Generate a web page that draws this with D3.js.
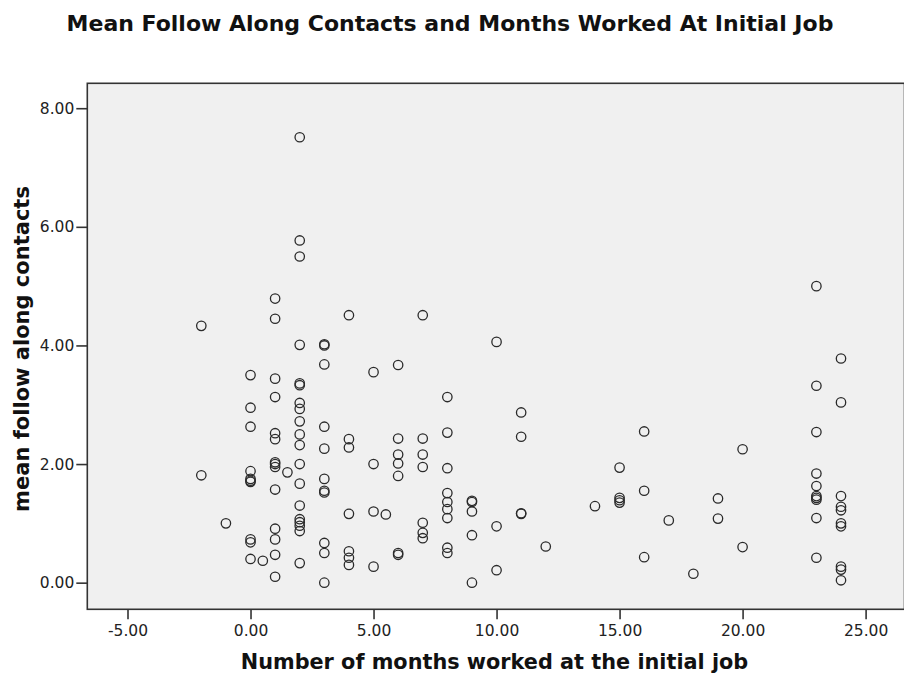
<!DOCTYPE html>
<html>
<head>
<meta charset="utf-8">
<script src="https://cdn.jsdelivr.net/npm/d3@7"></script>
<style>
  body { margin: 0; background: #ffffff; }
</style>
</head>
<body>
<script>
// months worked at initial job (x) and mean follow along contacts (y)
const months = [
  -2, -2,
  -1,
  0, 0, 0, 0, 0, 0, 0, 0, 0, 0,
  0.5,
  1, 1, 1, 1, 1, 1, 1, 1, 1, 1, 1, 1, 1, 1,
  1.5,
  2, 2, 2, 2, 2, 2, 2, 2, 2, 2, 2, 2, 2, 2, 2, 2, 2, 2, 2,
  3, 3, 3, 3, 3, 3, 3, 3, 3, 3, 3,
  4, 4, 4, 4, 4, 4, 4,
  5, 5, 5, 5,
  5.5,
  6, 6, 6, 6, 6, 6, 6,
  7, 7, 7, 7, 7, 7, 7,
  8, 8, 8, 8, 8, 8, 8, 8, 8,
  9, 9, 9, 9, 9,
  10, 10, 10,
  11, 11, 11, 11,
  12,
  14,
  15, 15, 15, 15,
  16, 16, 16,
  17,
  18,
  19, 19,
  20, 20,
  23, 23, 23, 23, 23, 23, 23, 23, 23, 23,
  24, 24, 24, 24, 24, 24, 24, 24, 24, 24
];
const contacts = [
  4.33, 1.81,
  1.00,
  3.50, 2.95, 2.63, 1.88, 1.75, 1.72, 1.70, 0.73, 0.68, 0.40,
  0.37,
  4.79, 4.45, 3.44, 3.13, 2.52, 2.42, 2.03, 2.00, 1.95, 1.57, 0.91, 0.73, 0.47, 0.10,
  1.86,
  7.51, 5.77, 5.50, 4.01, 3.36, 3.33, 3.03, 2.93, 2.72, 2.50, 2.32, 2.00, 1.67, 1.30, 1.07, 1.02, 0.96, 0.87, 0.33,
  4.02, 4.00, 3.68, 2.63, 2.26, 1.75, 1.55, 1.52, 0.67, 0.50, 0.00,
  4.51, 2.42, 2.28, 1.16, 0.53, 0.42, 0.30,
  3.55, 2.00, 1.20, 0.27,
  1.15,
  3.67, 2.43, 2.16, 2.01, 1.80, 0.50, 0.47,
  4.51, 2.43, 2.16, 1.95, 1.01, 0.84, 0.75,
  3.13, 2.53, 1.93, 1.51, 1.36, 1.24, 1.09, 0.59, 0.50,
  1.38, 1.36, 1.20, 0.80, 0.00,
  4.06, 0.95, 0.21,
  2.87, 2.46, 1.17, 1.16,
  0.61,
  1.29,
  1.94, 1.43, 1.39, 1.35,
  2.55, 1.55, 0.43,
  1.05,
  0.15,
  1.42, 1.08,
  2.25, 0.60,
  5.00, 3.32, 2.54, 1.84, 1.63, 1.46, 1.43, 1.40, 1.09, 0.42,
  3.78, 3.04, 1.46, 1.28, 1.22, 1.00, 0.95, 0.27, 0.22, 0.04
];
const xTicks = [-5, 0, 5, 10, 15, 20, 25];
const yTicks = [0, 2, 4, 6, 8];

const titleText = "Mean Follow Along Contacts and Months Worked At Initial Job";
const xLabel = "Number of months worked at the initial job";
const yLabel = "mean follow along contacts";

let canvasW = 904;
let canvasH = 679;

let plotL = 87.3, plotT = 83.3, plotR = 904.5, plotB = 609.3;

let svg = d3.select("body").append("svg")
  .attr("width", canvasW)
  .attr("height", canvasH)
  .style("font-family", "'DejaVu Sans', sans-serif");

let x = d3.scaleLinear().domain([-6.634, 26.52]).range([plotL, 903]);
let y = d3.scaleLinear().domain([-0.449, 8.42]).range([plotB, plotT]);

// plot background + frame
svg.append("rect")
  .attr("x", plotL)
  .attr("y", plotT)
  .attr("width", plotR - plotL)
  .attr("height", plotB - plotT)
  .attr("fill", "#f0f0f0")
  .attr("stroke", "#333")
  .attr("stroke-width", 1.6);

let fmt = d => d.toFixed(2);

// axes
let xAxis = svg.append("g")
  .attr("transform", `translate(0,${plotB})`)
  .call(d3.axisBottom(x).tickValues(xTicks).tickFormat(fmt).tickSize(10).tickSizeOuter(0).tickPadding(6));

let yAxis = svg.append("g")
  .attr("transform", `translate(${plotL},0)`)
  .call(d3.axisLeft(y).tickValues(yTicks).tickFormat(fmt).tickSize(11).tickSizeOuter(0).tickPadding(2));

[xAxis, yAxis].forEach(a => {
  a.select(".domain").remove();
  a.selectAll(".tick line").attr("stroke", "#333").attr("stroke-width", 1.6);
  a.selectAll(".tick text")
    .attr("fill", "#222")
    .style("font-family", "'DejaVu Sans', sans-serif")
    .style("font-size", "15.5px");
});

// points
svg.append("g")
  .selectAll("circle")
  .data(months.map((m, i) => [m, contacts[i]]))
  .enter().append("circle")
  .attr("cx", d => x(d[0]))
  .attr("cy", d => y(d[1]))
  .attr("r", 4.7)
  .attr("fill", "none")
  .attr("stroke", "#2a2a2a")
  .attr("stroke-width", 1.3);

// title
svg.append("text")
  .attr("x", 450)
  .attr("y", 31)
  .attr("text-anchor", "middle")
  .attr("font-weight", "bold")
  .attr("font-size", "22px")
  .attr("fill", "#111")
  .text(titleText);

// axis titles
svg.append("text")
  .attr("x", 494.5)
  .attr("y", 669)
  .attr("text-anchor", "middle")
  .attr("font-weight", "bold")
  .attr("font-size", "20.8px")
  .attr("fill", "#111")
  .text(xLabel);

svg.append("text")
  .attr("transform", "translate(29,349) rotate(-90)")
  .attr("text-anchor", "middle")
  .attr("font-weight", "bold")
  .attr("font-size", "21px")
  .attr("fill", "#111")
  .text(yLabel);
</script>
</body>
</html>
